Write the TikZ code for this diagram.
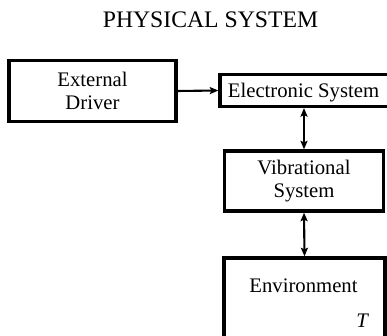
\documentclass[tikz,border=0pt]{standalone}
\usepackage{fontspec}
\setmainfont{Liberation Serif}
\usetikzlibrary{arrows.meta}
\begin{document}
\begin{tikzpicture}[x=1pt,y=-1pt,
  blockbox/.style={draw=black,line width=3.3pt,rectangle,inner sep=0pt,align=center,font=\fontsize{20.7}{23}\selectfont},
  link/.style={line width=2.1pt,-{Stealth[length=8.5pt,width=7pt,inset=1.5pt]}},
  dlink/.style={line width=2.1pt,{Stealth[length=8.5pt,width=7pt,inset=1.5pt]}-{Stealth[length=8.5pt,width=7pt,inset=1.5pt]}},
  txt/.style={inner sep=0pt,font=\fontsize{20.7}{23}\selectfont}]
\useasboundingbox (0,0) rectangle (387,336);
\clip (0,0) rectangle (387,336);
\node[inner sep=0pt,anchor=base,font=\fontsize{23.7}{26}\selectfont] (title) at (210.5,28) {PHYSICAL SYSTEM};
\node[blockbox,minimum width=167pt,minimum height=61pt] (ext) at (92.5,91) {External\\Driver};
\node[blockbox,minimum width=170pt,minimum height=32pt] (elec) at (305,90.5) {};
\node[txt,anchor=base] (electxt) at (303.5,97.5) {Electronic System};
\node[blockbox,minimum width=159pt,minimum height=60pt] (vib) at (304,181) {Vibrational\\System};
\node[blockbox,minimum width=161pt,minimum height=100pt] (env) at (304.5,308) {};
\node[txt,anchor=base] (envtxt) at (303.5,292) {Environment};
\node[txt,anchor=base] (temp) at (362,327) {\itshape T};
\draw[link] (ext.east) -- (elec.west);
\draw[dlink] (elec.south -| vib.north) -- (vib.north);
\draw[dlink] (vib.south) -- (env.north);
\end{tikzpicture}
\end{document}
